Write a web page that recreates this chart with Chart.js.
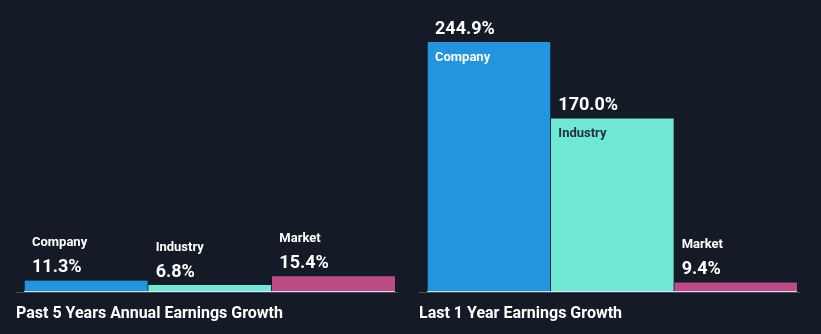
<!DOCTYPE html>
<html>
<head>
<meta charset="utf-8">
<script src="https://cdn.jsdelivr.net/npm/chart.js@4.4.0/dist/chart.umd.min.js"></script>
<style>
  html, body { margin: 0; padding: 0; background: #151b26; }
  #wrap { position: relative; width: 821px; height: 334px; overflow: hidden; }
  .panel { position: absolute; top: 0; height: 334px; }
</style>
</head>
<body>
<div id="wrap">
  <div class="panel" style="left:0;width:410px"><canvas id="left"></canvas></div>
  <div class="panel" style="left:410px;width:411px"><canvas id="right"></canvas></div>
</div>
<script>
const categories = ['Company', 'Industry', 'Market'];
const past5Years = [11.3, 6.8, 15.4];
const last1Year = [244.9, 170.0, 9.4];
const titles = ['Past 5 Years Annual Earnings Growth', 'Last 1 Year Earnings Growth'];
const barColors = ['#2394df', '#6fe8d6', '#bb4a86'];
const insideText = ['#ffffff', '#26303d', '#ffffff'];

const FONT = 'Roboto, "Noto Sans", sans-serif';

// draws the names, values, base line and panel title
const labelPlugin = {
    id: 'labels',
    afterDatasetsDraw(chart, args, opts) {
        const c = chart.ctx;
        const area = chart.chartArea;
        const meta = chart.getDatasetMeta(0);
        const values = chart.data.datasets[0].data;

        // base line
        c.save();
        c.fillStyle = '#474d57';
        c.fillRect(area.left - 8, area.bottom, area.right - area.left + 11, 1);
        c.fillStyle = 'rgba(230,235,240,0.85)';
        c.fillRect(area.left, area.bottom - 1, area.right - area.left, 1);

        c.textAlign = 'left';
        c.textBaseline = 'alphabetic';
        meta.data.forEach((bar, i) => {
            const x = bar.x - bar.width / 2 + 8;
            const top = bar.y;
            const valueText = values[i].toFixed(1) + '%';
            if (bar.base - top > 40) {
                c.fillStyle = '#ffffff';
                c.font = 'bold 18px ' + FONT;
                c.fillText(valueText, x, top - 8);
                c.fillStyle = insideText[i];
                c.font = 'bold 13px ' + FONT;
                c.fillText(categories[i], x, top + 19);
            } else {
                c.fillStyle = '#ffffff';
                c.font = 'bold 18px ' + FONT;
                c.fillText(valueText, x, top - 8);
                c.font = 'bold 13px ' + FONT;
                c.fillText(categories[i], x, top - 34);
            }
        });

        c.fillStyle = '#ffffff';
        c.font = 'bold 16px ' + FONT;
        c.fillText(opts.text, area.left - 8, 318);
        c.restore();
    }
};

function makeChart(id, values, title, padLeft, padRight) {
    return new Chart(document.getElementById(id), {
        type: 'bar',
        data: {
            labels: categories,
            datasets: [{
                data: values,
                backgroundColor: barColors,
                borderColor: 'rgba(0,0,0,0.25)',
                borderWidth: { left: 1, right: 0, top: 0, bottom: 0 },
                borderSkipped: false,
                barPercentage: 1,
                categoryPercentage: 1
            }]
        },
        options: {
            responsive: true,
            maintainAspectRatio: false,
            animation: false,
            layout: { padding: { left: padLeft, right: padRight, top: 0, bottom: 42 } },
            plugins: {
                legend: { display: false },
                tooltip: { enabled: false },
                labels: { text: title }
            },
            scales: {
                x: { display: false },
                y: { display: false, min: 0, max: 286 }
            }
        },
        plugins: [labelPlugin]
    });
}

makeChart('left', past5Years, titles[0], 24, 15);
makeChart('right', last1Year, titles[1], 17, 24);
</script>
</body>
</html>
